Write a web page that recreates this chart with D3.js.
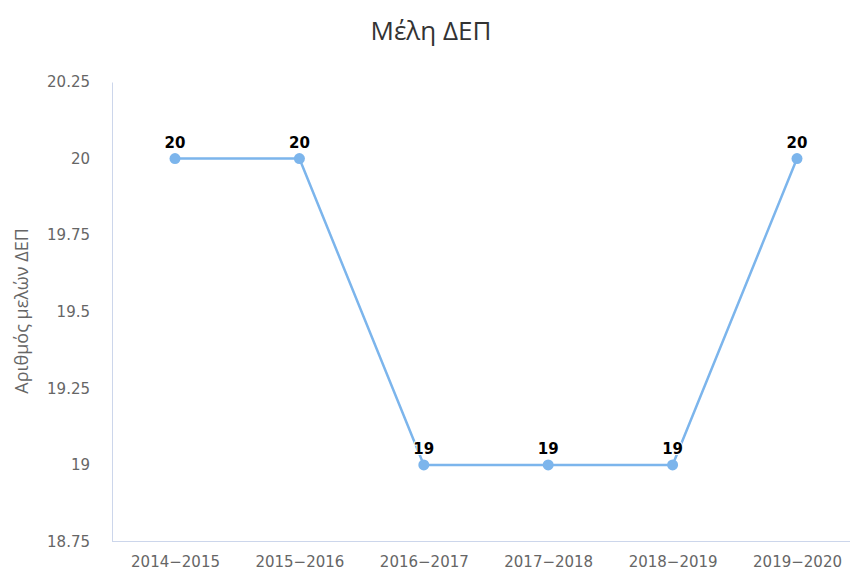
<!DOCTYPE html>
<html><head><meta charset="utf-8">
<script src="https://cdn.jsdelivr.net/npm/d3@7"></script>
<style>body{margin:0;background:#fff}svg{display:block}</style>
</head><body><svg id="c" width="850" height="572"></svg>
<script>
const categories = ["2014-2015","2015-2016","2016-2017","2017-2018","2018-2019","2019-2020"];
const values = [20,20,19,19,19,20];
const yTicks = [18.75,19,19.25,19.5,19.75,20,20.25];
const title = "Μέλη ΔΕΠ";
const yTitle = "Αριθμός μελών ΔΕΠ";

const svg = d3.select("#c");
const font = "'DejaVu Sans', sans-serif";
const x = d3.scalePoint().domain(categories).range([112.8, 859.2]).padding(0.5);
const y = d3.scaleLinear().domain([18.75, 20.25]).range([541.5, 82]);

svg.append("text").attr("x", 431).attr("y", 40).attr("text-anchor","middle")
  .attr("font-family", "'Open Sans', sans-serif").attr("font-size", 26).attr("fill","#333").text(title);

svg.append("text").attr("transform","translate(28,311) rotate(-90)").attr("text-anchor","middle")
  .attr("font-family", "'Open Sans', sans-serif").attr("font-size", 18).attr("fill","#666").text(yTitle);

// y axis
const ya = svg.append("g").attr("transform","translate(112,0)")
  .call(d3.axisLeft(y).tickValues(yTicks).tickSize(0).tickPadding(22).tickFormat(d=>String(d)));
ya.select(".domain").attr("stroke","#ccd6eb").attr("stroke-width",1);
ya.selectAll("text").attr("font-family", font).attr("font-size", 15).attr("fill","#666");

// x axis
const xa = svg.append("g").attr("transform","translate(0,541.5)")
  .call(d3.axisBottom(x).tickSize(0).tickPadding(15).tickFormat(d=>d.replace("-","\u2212")));
xa.select(".domain").attr("d","M112,0H850").attr("stroke","#ccd6eb").attr("stroke-width",1);
xa.selectAll("text").attr("font-family", font).attr("font-size", 15).attr("fill","#666");

const line = d3.line().x((d,i)=>x(categories[i])).y(d=>y(d));
svg.append("path").datum(values).attr("d", line).attr("fill","none")
  .attr("stroke","#7cb5ec").attr("stroke-width",2.5);

svg.selectAll("circle.p").data(values).enter().append("circle")
  .attr("cx",(d,i)=>x(categories[i])).attr("cy",d=>y(d)).attr("r",5.5).attr("fill","#7cb5ec");

svg.selectAll("text.lbl").data(values).enter().append("text")
  .attr("x",(d,i)=>x(categories[i])).attr("y",d=>y(d)-11).attr("text-anchor","middle")
  .attr("font-family", font).attr("font-size",15).attr("font-weight","bold").attr("fill","#000")
  .attr("stroke","#fff").attr("stroke-width",2).attr("paint-order","stroke").text(d=>d);
</script></body></html>
